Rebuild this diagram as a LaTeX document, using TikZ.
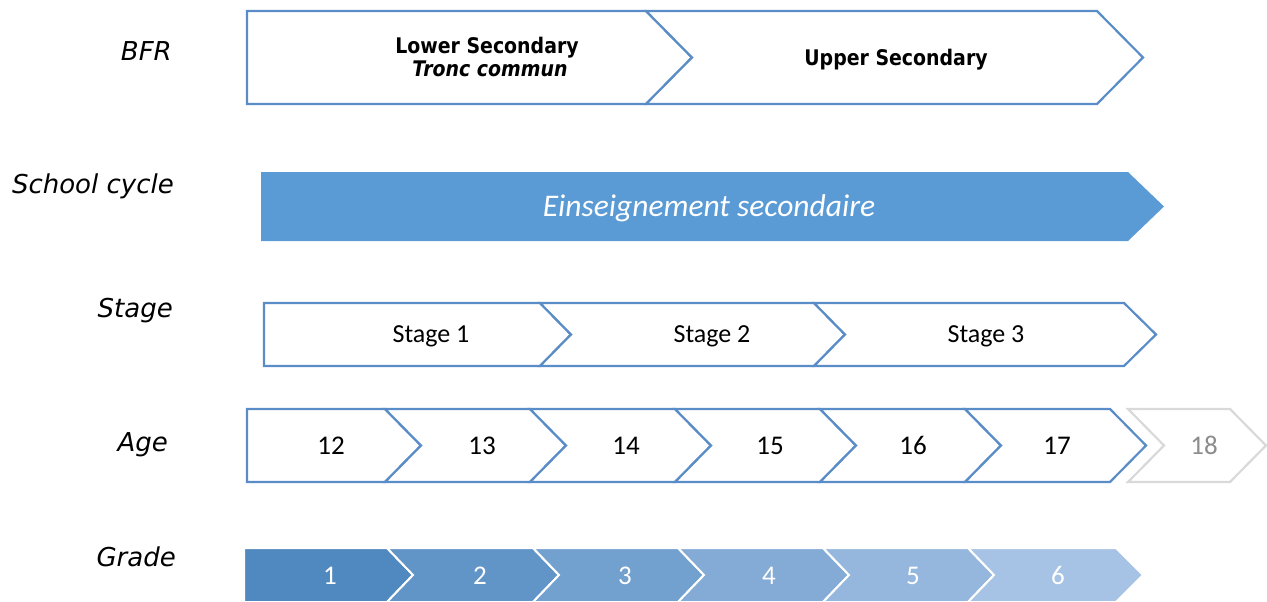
\documentclass[tikz,border=0pt]{standalone}
\usepackage{fontspec}
\setmainfont{Carlito}
\newfontfamily\vfont{DejaVu Sans}
\newfontfamily\bfrfont[FakeStretch=0.88]{DejaVu Sans}
\definecolor{edgeblue}{HTML}{5A8DC8}
\definecolor{cycblue}{HTML}{5B9BD5}
\definecolor{gray18}{HTML}{D9D9D9}
\definecolor{txt18}{HTML}{8C8C8C}
\definecolor{g1}{HTML}{5088C0}
\definecolor{g2}{HTML}{6194C7}
\definecolor{g3}{HTML}{72A0CF}
\definecolor{g4}{HTML}{84ABD6}
\definecolor{g5}{HTML}{95B7DE}
\definecolor{g6}{HTML}{A6C3E5}
\tikzset{
  lab/.style={anchor=base east, inner sep=0pt, font=\vfont\itshape\fontsize{26}{30}\selectfont},
  outl/.style={draw=edgeblue, line width=2.2pt, fill=white},
  outlgray/.style={draw=gray18, line width=2.2pt, fill=white},
  bfrt/.style={anchor=base, inner sep=0pt, font=\bfrfont\bfseries\fontsize{21.5}{24}\selectfont},
  stg/.style={anchor=base, inner sep=0pt, font=\fontsize{26}{30}\selectfont},
  agetxt/.style={anchor=base, inner sep=0pt, font=\fontsize{27}{31}\selectfont},
  gradecell/.style={draw=white, line width=2pt},
  gradetxt/.style={anchor=base, inner sep=0pt, text=white, font=\fontsize{27}{31}\selectfont},
}
\begin{document}
\begin{tikzpicture}[x=1pt,y=-1pt]
\useasboundingbox (0,0) rectangle (1267,602);

% row labels
\node[lab] (lbfr) at (172,61) {BFR};
\node[lab] (lcycle) at (174,193) {School cycle};
\node[lab] (lstage) at (173,317) {Stage};
\node[lab] (lage) at (168,451) {Age};
\node[lab] (lgrade) at (176,566) {Grade};

% BFR row
\draw[outl] (247,11) -- (646,11) -- (692,57.5) -- (646,104) -- (247,104) -- cycle;
\draw[outl] (646,11) -- (1097,11) -- (1143,57.5) -- (1097,104) -- (646,104) -- (692,57.5) -- cycle;
\node[bfrt] (lower) at (487,54) {Lower Secondary};
\node[bfrt] (tronc) at (490,77) {\itshape Tronc commun};
\node[bfrt] (upper) at (896,66) {Upper Secondary};

% School cycle row
\fill[cycblue] (261,172) -- (1128,172) -- (1164,206.5) -- (1128,241) -- (261,241) -- cycle;
\node[anchor=base, inner sep=0pt, text=white, font=\itshape\fontsize{31.5}{35}\selectfont] (cyc) at (709,216) {Einseignement secondaire};

% Stage row
\draw[outl] (264,303) -- (540,303) -- (571,334.5) -- (540,366) -- (264,366) -- cycle;
\draw[outl] (540,303) -- (814,303) -- (845,334.5) -- (814,366) -- (540,366) -- (571,334.5) -- cycle;
\draw[outl] (814,303) -- (1124,303) -- (1156,334.5) -- (1124,366) -- (814,366) -- (845,334.5) -- cycle;
\node[stg] (s1) at (431,342.5) {Stage 1};
\node[stg] (s2) at (712,342.5) {Stage 2};
\node[stg] (s3) at (986,342.5) {Stage 3};

% Age row
\draw[outl] (247,409) -- (385,409) -- (421,445.5) -- (385,482) -- (247,482) -- cycle;
\foreach \l/\c in {385/530, 530/675, 675/820, 820/965, 965/1110}{
  \draw[outl] (\l,409) -- (\c,409) -- ({\c+36},445.5) -- (\c,482) -- (\l,482) -- ({\l+36},445.5) -- cycle;
}
\draw[outlgray] (1128,409) -- (1230,409) -- (1266,445.5) -- (1230,482) -- (1128,482) -- (1164,445.5) -- cycle;
\node[agetxt] (a12) at (331,454.5) {12};
\node[agetxt] (a13) at (482,454.5) {13};
\node[agetxt] (a14) at (626,454.5) {14};
\node[agetxt] (a15) at (770,454.5) {15};
\node[agetxt] (a16) at (913,454.5) {16};
\node[agetxt] (a17) at (1057,454.5) {17};
\node[agetxt, text=txt18] (a18) at (1204,454.5) {18};

% Grade row
\path[gradecell, fill=g1] (244,548) -- (387,548) -- (413,575) -- (387,602) -- (244,602) -- cycle;
\path[gradecell, fill=g2] (387,548) -- (533,548) -- (559,575) -- (533,602) -- (387,602) -- (413,575) -- cycle;
\path[gradecell, fill=g3] (533,548) -- (678,548) -- (704,575) -- (678,602) -- (533,602) -- (559,575) -- cycle;
\path[gradecell, fill=g4] (678,548) -- (823,548) -- (849,575) -- (823,602) -- (678,602) -- (704,575) -- cycle;
\path[gradecell, fill=g5] (823,548) -- (968,548) -- (994,575) -- (968,602) -- (823,602) -- (849,575) -- cycle;
\path[gradecell, fill=g6] (968,548) -- (1116,548) -- (1143,575) -- (1116,602) -- (968,602) -- (994,575) -- cycle;
\node[gradetxt] (g1t) at (330,584.5) {1};
\node[gradetxt] (g2t) at (480,584.5) {2};
\node[gradetxt] (g3t) at (625,584.5) {3};
\node[gradetxt] (g4t) at (769,584.5) {4};
\node[gradetxt] (g5t) at (913,584.5) {5};
\node[gradetxt] (g6t) at (1058,584.5) {6};
\end{tikzpicture}
\end{document}
